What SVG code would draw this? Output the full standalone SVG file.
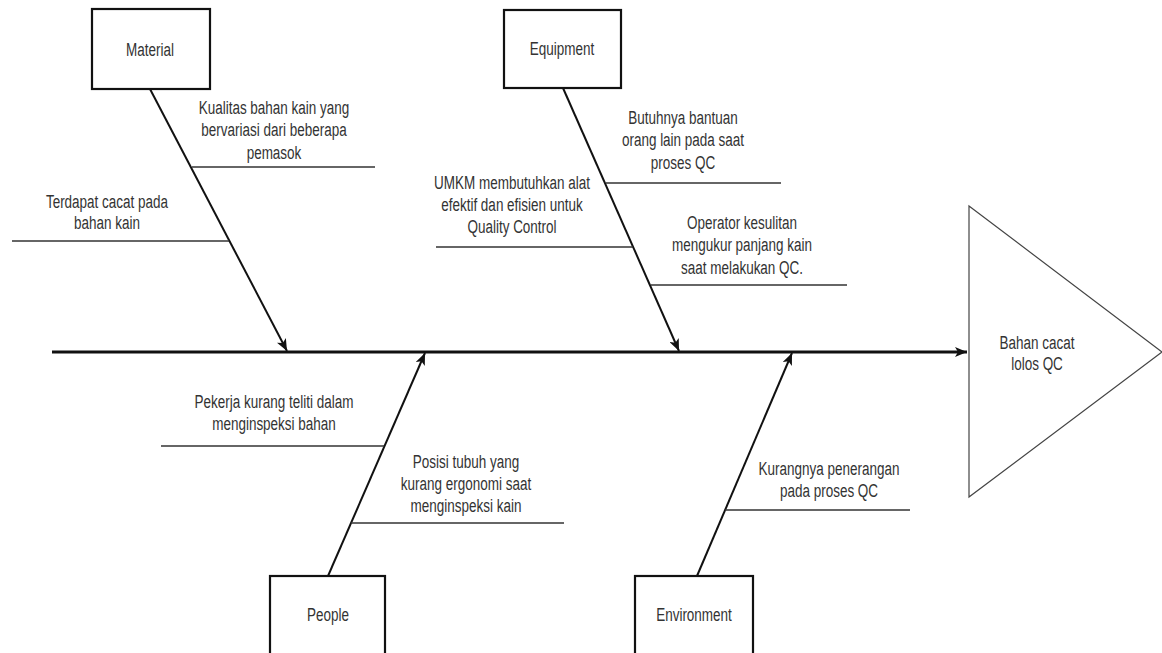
<svg xmlns="http://www.w3.org/2000/svg" width="1162" height="653" viewBox="0 0 1162 653">
<style>
.box{fill:#fff;stroke:#111;stroke-width:2.2}
.spine{stroke:#111;stroke-width:3;fill:none}
.bone{stroke:#111;stroke-width:2;fill:none}
.sub{stroke:#333;stroke-width:1.5;fill:none}
.tri{fill:#fff;stroke:#444;stroke-width:1.2}
text{font-family:"Liberation Sans",Arial,sans-serif;font-size:13.5px;fill:#333;text-anchor:middle}
</style>
<defs>
<marker id="ah" viewBox="0 0 12 10" refX="12" refY="5" markerWidth="12" markerHeight="10" orient="auto" markerUnits="userSpaceOnUse">
<path d="M0,0 L12,5 L0,10 L3,5 Z" fill="#111"/>
</marker>
</defs>
<rect width="1162" height="653" fill="#fff"/>

<g id="connectors">
<line class="spine" x1="52" y1="352" x2="967" y2="352" marker-end="url(#ah)"/>
<line class="bone" x1="150" y1="89" x2="287" y2="351" marker-end="url(#ah)"/>
<line class="bone" x1="563" y1="88" x2="679" y2="351" marker-end="url(#ah)"/>
<line class="bone" x1="328" y1="576" x2="425" y2="353" marker-end="url(#ah)"/>
<line class="bone" x1="697" y1="576" x2="792" y2="353" marker-end="url(#ah)"/>
<line class="sub" x1="192" y1="167" x2="375" y2="167"/>
<line class="sub" x1="12" y1="241" x2="229" y2="241"/>
<line class="sub" x1="606" y1="183" x2="781" y2="183"/>
<line class="sub" x1="436" y1="247" x2="633" y2="247"/>
<line class="sub" x1="651" y1="285" x2="847" y2="285"/>
<line class="sub" x1="161" y1="446" x2="384" y2="446"/>
<line class="sub" x1="351" y1="523" x2="564" y2="523"/>
<line class="sub" x1="725" y1="510" x2="910" y2="510"/>
</g>

<g id="effect">
<polygon class="tri" points="969,206 1162,352 969,497"/>
<g transform="translate(1037,349) scale(1,1.3)"><text x="0" y="0">Bahan cacat<tspan x="0" dy="16.5">lolos QC</tspan></text></g>
</g>

<g id="material">
<rect class="box" x="92" y="9" width="118" height="80"/>
<g transform="translate(150,56) scale(1,1.3)"><text x="0" y="0">Material</text></g>
</g>
<g id="cause-kualitas">
<g transform="translate(274,114) scale(1,1.3)"><text x="0" y="0">Kualitas bahan kain yang<tspan x="0" dy="17.3">bervariasi dari beberapa</tspan><tspan x="0" dy="17.3">pemasok</tspan></text></g>
</g>
<g id="cause-terdapat">
<g transform="translate(107,208) scale(1,1.3)"><text x="0" y="0">Terdapat cacat pada<tspan x="0" dy="16.2">bahan kain</tspan></text></g>
</g>

<g id="equipment">
<rect class="box" x="504" y="10" width="117" height="78"/>
<g transform="translate(562,55) scale(1,1.3)"><text x="0" y="0">Equipment</text></g>
</g>
<g id="cause-butuhnya">
<g transform="translate(683,124) scale(1,1.3)"><text x="0" y="0">Butuhnya bantuan<tspan x="0" dy="17.3">orang lain pada saat</tspan><tspan x="0" dy="17.3">proses QC</tspan></text></g>
</g>
<g id="cause-umkm">
<g transform="translate(512,189) scale(1,1.3)"><text x="0" y="0">UMKM membutuhkan alat<tspan x="0" dy="16.9">efektif dan efisien untuk</tspan><tspan x="0" dy="16.9">Quality Control</tspan></text></g>
</g>
<g id="cause-operator">
<g transform="translate(742,229) scale(1,1.3)"><text x="0" y="0">Operator kesulitan<tspan x="0" dy="17.3">mengukur panjang kain</tspan><tspan x="0" dy="17.3">saat melakukan QC.</tspan></text></g>
</g>

<g id="people">
<rect class="box" x="270" y="576" width="115" height="90"/>
<g transform="translate(328,621) scale(1,1.3)"><text x="0" y="0">People</text></g>
</g>
<g id="cause-pekerja">
<g transform="translate(274,408) scale(1,1.3)"><text x="0" y="0">Pekerja kurang teliti dalam<tspan x="0" dy="16.9">menginspeksi bahan</tspan></text></g>
</g>
<g id="cause-posisi">
<g transform="translate(466,468) scale(1,1.3)"><text x="0" y="0">Posisi tubuh yang<tspan x="0" dy="16.9">kurang ergonomi saat</tspan><tspan x="0" dy="16.9">menginspeksi kain</tspan></text></g>
</g>

<g id="environment">
<rect class="box" x="635" y="576" width="118" height="90"/>
<g transform="translate(694,621) scale(1,1.3)"><text x="0" y="0">Environment</text></g>
</g>
<g id="cause-kurangnya">
<g transform="translate(829,475) scale(1,1.3)"><text x="0" y="0">Kurangnya penerangan<tspan x="0" dy="16.9">pada proses QC</tspan></text></g>
</g>
</svg>
